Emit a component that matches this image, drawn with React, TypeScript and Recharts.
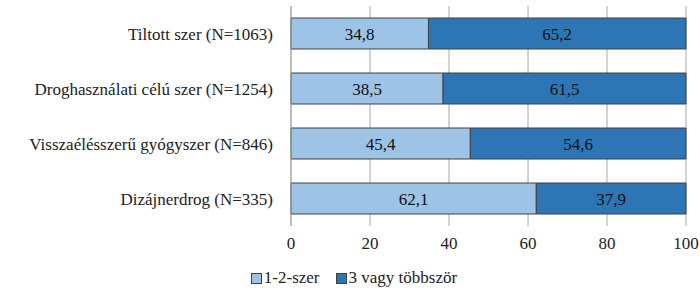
import { Bar, BarChart, CartesianGrid, LabelList, Legend, XAxis, YAxis } from "recharts"

const categories = [
  "Tiltott szer (N=1063)",
  "Droghasználati célú szer (N=1254)",
  "Visszaélésszerű gyógyszer (N=846)",
  "Dizájnerdrog (N=335)",
]
const once = [34.8, 38.5, 45.4, 62.1]
const often = [65.2, 61.5, 54.6, 37.9]
const xTicks = [0, 20, 40, 60, 80, 100]

const seriesNames = ["1-2-szer", "3 vagy többször"]
const colors = ["#9DC3E6", "#2E75B6"]

const data = categories.map((name, i) => ({ name, once: once[i], often: often[i] }))

const font = "Liberation Serif, Times New Roman, serif"
const fs = 17

const fmt = (v: any) => String(v).replace(".", ",")

function LegendBox() {
  return (
    <div style={{ display: "flex", justifyContent: "center", paddingLeft: 22, paddingTop: 2, fontFamily: font, fontSize: fs, color: "#222", lineHeight: "20px" }}>
      {seriesNames.map((s, i) => (
        <span key={s} style={{ display: "flex", alignItems: "center", marginRight: i === 0 ? 16 : 0 }}>
          <span style={{ width: 9, height: 9, background: colors[i], border: "1px solid #404040", marginRight: 2, display: "inline-block" }} />
          {s}
        </span>
      ))}
    </div>
  )
}

export default function App() {
  return (
    <div style={{ position: "absolute", left: 0, top: 0, width: 700, height: 294, background: "#fff", fontFamily: font }}>
      <BarChart
        width={700}
        height={294}
        data={data}
        layout="vertical"
        margin={{ top: 6, right: 14, bottom: 0, left: 0 }}
        barSize={31}
      >
        <CartesianGrid horizontal={false} stroke="#a6a6a6" />
        <XAxis
          type="number"
          domain={[0, 100]}
          ticks={xTicks}
          axisLine={false}
          tickLine={false}
          tickSize={0}
          tickMargin={11}
          height={40}
          tick={{ fill: "#222", fontSize: fs, fontFamily: font }}
        />
        <YAxis
          type="category"
          dataKey="name"
          width={291}
          axisLine={{ stroke: "#a6a6a6" }}
          tickLine={false}
          tickMargin={12}
          tick={{ fill: "#222", fontSize: fs, fontFamily: font }}
        />
        <Legend verticalAlign="bottom" height={28} content={<LegendBox />} />
        <Bar dataKey="once" name={seriesNames[0]} stackId="a" fill={colors[0]} stroke="#404040" strokeWidth={1} isAnimationActive={false}>
          <LabelList dataKey="once" position="center" formatter={fmt} style={{ fill: "#111", fontSize: fs, fontFamily: font }} />
        </Bar>
        <Bar dataKey="often" name={seriesNames[1]} stackId="a" fill={colors[1]} stroke="#404040" strokeWidth={1} isAnimationActive={false}>
          <LabelList dataKey="often" position="center" formatter={fmt} style={{ fill: "#111", fontSize: fs, fontFamily: font }} />
        </Bar>
      </BarChart>
    </div>
  )
}
